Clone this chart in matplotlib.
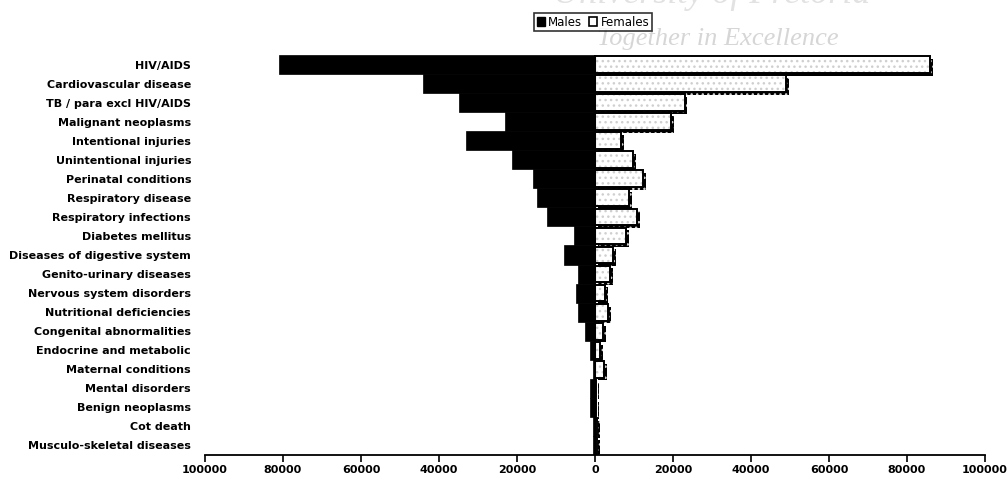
import matplotlib
matplotlib.use("Agg")
import matplotlib.pyplot as plt
import matplotlib.patheffects as pe
from matplotlib.patches import Patch
import numpy as np

categories = [
    "HIV/AIDS",
    "Cardiovascular disease",
    "TB / para excl HIV/AIDS",
    "Malignant neoplasms",
    "Intentional injuries",
    "Unintentional injuries",
    "Perinatal conditions",
    "Respiratory disease",
    "Respiratory infections",
    "Diabetes mellitus",
    "Diseases of digestive system",
    "Genito-urinary diseases",
    "Nervous system disorders",
    "Nutritional deficiencies",
    "Congenital abnormalities",
    "Endocrine and metabolic",
    "Maternal conditions",
    "Mental disorders",
    "Benign neoplasms",
    "Cot death",
    "Musculo-skeletal diseases",
]
males = [81000, 44000, 35000, 23000, 33000, 21300, 15900, 14900, 12300, 5400,
         7900, 4400, 4900, 4400, 2600, 1300, 600, 1300, 1300, 500, 500]
females = [86000, 49000, 23000, 19500, 6700, 9700, 12300, 8700, 10700, 8000,
           4600, 3800, 2600, 3300, 2000, 1300, 2300, 200, 200, 500, 500]
xticks = [-100000, -80000, -60000, -40000, -20000, 0, 20000, 40000, 60000, 80000, 100000]
xticklabels = ["100000", "80000", "60000", "40000", "20000", "0",
               "20000", "40000", "60000", "80000", "100000"]

plt.rcParams["font.family"] = ["DejaVu Sans"]

fig = plt.figure(figsize=(10.08, 4.78), dpi=100)
ax = fig.add_axes([205 / 1008, 1 - 455 / 478, 780 / 1008, 400 / 478])

y = np.arange(len(categories))

ax.barh(y, -np.array(males), height=1.0, color="black", edgecolor="black",
        linewidth=0.5, zorder=2)

# female bars: speckled fill with drop shadow, then a black outline on top
fh = 0.88
fill = ax.barh(y, females, height=fh, color="white", edgecolor="#cfcfcf",
               hatch="...", linewidth=0, zorder=2)
for p in fill.patches:
    p.set_path_effects([pe.SimplePatchShadow(offset=(2, -2), shadow_rgbFace="black", alpha=1.0),
                        pe.Normal()])
ax.barh(y, females, height=fh, facecolor="none", edgecolor="black",
        linewidth=1.4, zorder=3)

ax.axvline(0, color="black", linewidth=1.5, zorder=4)

ax.set_xlim(-100000, 100000)
ax.set_ylim(len(categories) - 0.5, -0.5)
ax.set_xticks(xticks)
ax.set_xticklabels(xticklabels, fontsize=8.0, fontweight="bold")
ax.set_yticks(y)
ax.set_yticklabels(categories, fontsize=8.0, fontweight="bold")
ax.tick_params(axis="y", length=0, pad=10)
ax.tick_params(axis="x", direction="out", length=5, width=1.2, pad=2)
for s in ["top", "right", "left"]:
    ax.spines[s].set_visible(False)
ax.spines["bottom"].set_linewidth(1.3)

handles = [Patch(facecolor="black", edgecolor="black"),
           Patch(facecolor="white", edgecolor="black", linewidth=1.2)]
leg = fig.legend(handles, ["Males", "Females"], loc="center",
                 bbox_to_anchor=(593 / 1008, 1 - 22 / 478), ncol=2,
                 fontsize=8.5, handlelength=0.7, handleheight=0.7,
                 handletextpad=0.25, columnspacing=0.6, borderpad=0.25,
                 fancybox=False, frameon=True, borderaxespad=0)
leg.get_frame().set_edgecolor("black")
leg.get_frame().set_linewidth(1.2)
leg.set_zorder(10)

# faint repository watermark behind the legend
fig.text(712 / 1008, 1 - 3 / 478, "University of Pretoria", ha="center", va="baseline",
         fontsize=26, fontstyle="italic", family="Liberation Serif",
         color="#e2e2e2", zorder=0)
fig.text(718 / 1008, 1 - 45 / 478, "Together in Excellence", ha="center", va="baseline",
         fontsize=19, fontstyle="italic", family="Liberation Serif",
         color="#d6d6d6", zorder=0)

fig.savefig("out.png", dpi=100)
